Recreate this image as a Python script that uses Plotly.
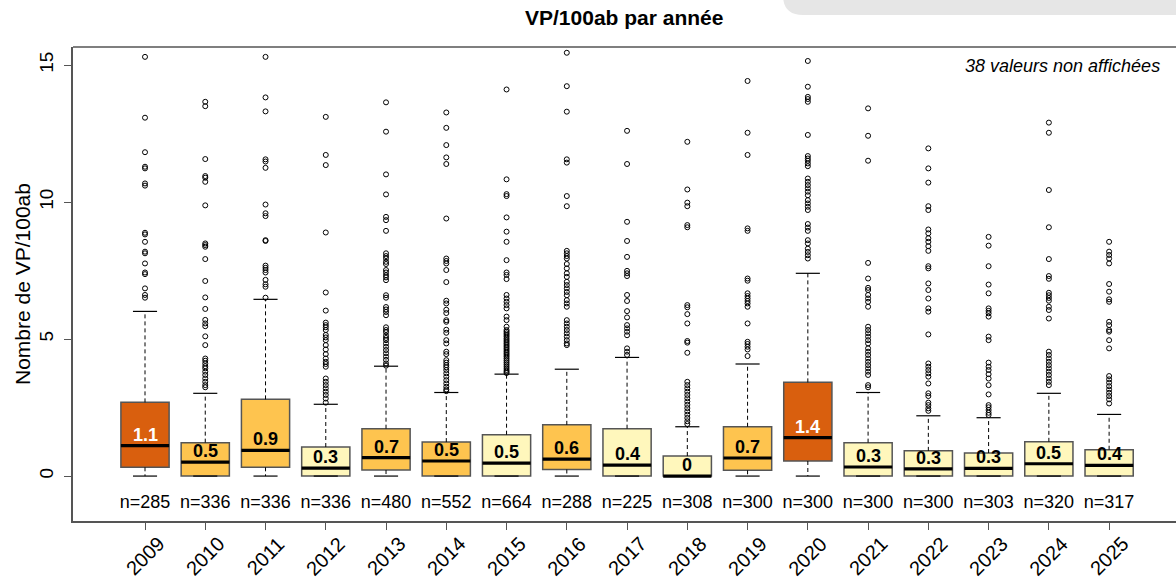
import plotly.graph_objects as go

# --- data --------------------------------------------------------------
years = [2009, 2010, 2011, 2012, 2013, 2014, 2015, 2016, 2017,
         2018, 2019, 2020, 2021, 2022, 2023, 2024, 2025]
n_obs = [285, 336, 336, 336, 480, 552, 664, 288, 225,
         308, 300, 300, 300, 300, 303, 320, 317]

q1 = [0.32, 0.0, 0.32, 0.0, 0.22, 0.0, 0.0, 0.24, 0.0,
      0.0, 0.21, 0.55, 0.0, 0.0, 0.0, 0.0, 0.0]
median = [1.11, 0.51, 0.94, 0.29, 0.67, 0.55, 0.47, 0.62, 0.40,
          0.0, 0.66, 1.40, 0.33, 0.26, 0.28, 0.45, 0.39]
q3 = [2.69, 1.22, 2.80, 1.06, 1.73, 1.24, 1.51, 1.87, 1.73,
      0.73, 1.80, 3.42, 1.22, 0.92, 0.84, 1.25, 0.96]
whisker_lo = [0.0] * 17
whisker_hi = [6.01, 3.02, 6.45, 2.62, 4.01, 3.05, 3.72, 3.90, 4.33,
              1.80, 4.09, 7.40, 3.05, 2.20, 2.13, 3.02, 2.25]
median_labels = ["1.1", "0.5", "0.9", "0.3", "0.7", "0.5", "0.5", "0.6", "0.4",
                 "0", "0.7", "1.4", "0.3", "0.3", "0.3", "0.5", "0.4"]

DARK, MID, PALE = "#D95F0E", "#FEC44F", "#FFF7BC"
box_colors = [DARK, MID, MID, PALE, MID, MID, PALE, MID, PALE,
              PALE, MID, DARK, PALE, PALE, PALE, PALE, PALE]

out_2009 = [15.30, 13.08, 11.82, 11.29, 11.23, 10.68, 10.60, 8.88, 8.82, 8.55,
            8.19, 8.13, 7.76, 7.43, 7.37, 6.85, 6.61, 6.51]
out_2010 = [13.66, 13.50, 11.57, 10.95, 10.89, 10.74, 9.88, 8.49, 8.43, 8.37,
            7.92, 7.12, 6.52, 6.10, 5.70, 5.57, 5.47, 5.10, 4.78, 4.29, 4.21,
            4.11, 4.01, 3.93, 3.81, 3.69, 3.56, 3.44, 3.32, 3.24]
out_2011 = [15.30, 13.82, 13.31, 11.56, 11.48, 11.25, 9.91, 9.59, 9.49, 8.61,
            8.58, 7.68, 7.60, 7.52, 7.43, 7.16, 7.00, 6.91, 6.51]
out_2012 = [13.11, 11.72, 11.35, 8.89, 6.70, 6.04, 5.60, 5.51, 5.43, 5.33,
            5.15, 5.06, 4.96, 4.78, 4.62, 4.45, 4.29, 4.17, 4.09, 3.99, 3.56,
            3.44, 3.32, 3.20, 3.08, 2.96, 2.83, 2.68]
out_2013 = [13.64, 12.57, 11.01, 10.28, 9.46, 9.34, 8.95, 8.13, 8.03, 7.94,
            7.82, 7.74, 7.52, 7.43, 7.33, 7.25, 7.15, 6.60, 6.51, 6.17, 6.08,
            5.99, 5.87, 5.43, 5.33, 5.25, 5.13, 5.04, 4.96, 4.84, 4.72, 4.60,
            4.48, 4.36, 4.24, 4.11, 4.03]
out_2014 = [13.27, 12.71, 12.08, 11.63, 11.39, 9.40, 7.94, 7.85, 7.76, 7.52,
            7.08, 6.40, 6.30, 6.07, 5.95, 5.69, 5.63, 5.34, 5.23, 4.96, 4.84,
            4.54, 4.45, 4.23, 4.14, 4.05, 3.97, 3.87, 3.75, 3.63, 3.50, 3.38,
            3.26, 3.16, 3.10]
out_2015 = [14.11, 10.83, 10.29, 10.22, 9.44, 8.92, 8.55, 7.88, 7.43, 7.34,
            7.19, 6.61, 6.48, 6.36, 6.24, 6.12, 5.82, 5.69, 5.45, 5.33, 5.27,
            5.21, 5.15, 5.09, 5.02, 4.96, 4.90, 4.84, 4.78, 4.72, 4.66, 4.60,
            4.54, 4.48, 4.42, 4.36, 4.29, 4.22, 4.15, 4.08, 4.01, 3.94, 3.87,
            3.81, 3.76]
out_2016 = [15.45, 14.23, 13.30, 11.56, 11.44, 10.22, 9.85, 8.22, 8.13, 8.03,
            7.94, 7.74, 7.58, 7.40, 7.27, 7.09, 6.97, 6.85, 6.72, 6.60, 6.42,
            6.30, 6.18, 5.69, 5.57, 5.45, 5.33, 5.21, 5.09, 4.96, 4.84, 4.78]
out_2017 = [12.60, 11.39, 9.28, 8.58, 8.00, 7.49, 7.40, 7.30, 6.61, 6.39,
            6.02, 5.79, 5.51, 5.39, 5.27, 5.14, 4.66, 4.54, 4.42]
out_2018 = [12.20, 10.46, 9.98, 9.85, 9.16, 9.08, 6.24, 6.16, 5.91, 5.57,
            4.93, 4.87, 4.50, 3.44, 3.32, 3.20, 3.08, 2.96, 2.84, 2.72, 2.60,
            2.48, 2.36, 2.24, 2.12, 2.00, 1.90]
out_2019 = [14.42, 12.53, 11.72, 9.04, 8.95, 7.21, 7.13, 6.67, 6.57, 6.48,
            6.39, 6.30, 6.18, 5.57, 4.90, 4.82, 4.72, 4.62, 4.38]
out_2020 = [15.15, 14.21, 13.84, 13.76, 13.66, 12.45, 11.68, 11.59, 11.51, 11.41,
            11.31, 10.86, 10.74, 10.62, 10.50, 10.38, 10.25, 10.07, 9.95, 9.83,
            9.71, 9.20, 9.07, 8.95, 8.61, 8.49, 8.30, 8.18, 8.06, 7.94]
out_2021 = [13.42, 12.42, 11.51, 7.78, 7.21, 6.87, 6.79, 6.61, 6.48, 6.36,
            6.18, 5.45, 5.33, 5.21, 5.09, 4.96, 4.84, 4.66, 4.54, 4.42, 4.29,
            4.17, 4.05, 3.93, 3.81, 3.69, 3.32, 3.24]
out_2022 = [11.96, 11.23, 10.71, 9.85, 9.71, 9.00, 8.86, 8.68, 8.55, 8.39,
            8.22, 7.66, 7.58, 7.03, 6.79, 6.48, 6.12, 6.00, 5.17, 4.11, 3.99,
            3.87, 3.75, 3.63, 3.38, 3.02, 2.92, 2.68, 2.59, 2.47, 2.38]
out_2023 = [8.73, 8.41, 7.66, 6.99, 6.67, 6.12, 6.03, 5.94, 5.82, 5.09,
            4.96, 4.14, 3.99, 3.87, 3.72, 3.56, 3.32, 2.98, 2.59, 2.51, 2.41,
            2.31, 2.23]
out_2024 = [12.90, 12.53, 10.44, 9.08, 7.92, 7.30, 7.20, 6.69, 6.60, 6.50,
            6.40, 6.18, 6.06, 5.75, 4.54, 4.42, 4.29, 4.17, 4.05, 3.93, 3.81,
            3.69, 3.56, 3.44, 3.32]
out_2025 = [8.55, 8.19, 8.07, 7.94, 7.76, 7.01, 6.73, 6.45, 6.36, 5.63,
            5.51, 5.33, 5.27, 4.96, 4.66, 3.65, 3.53, 3.41, 3.28, 3.16, 3.04,
            2.92, 2.80, 2.65]
outliers = [out_2009, out_2010, out_2011, out_2012, out_2013, out_2014,
            out_2015, out_2016, out_2017, out_2018, out_2019, out_2020,
            out_2021, out_2022, out_2023, out_2024, out_2025]

FONT = "Liberation Sans, Arial, sans-serif"
FRAME = "#555555"
pos = list(range(len(years)))

# plot area in pixels (R plot region is cut at the right edge)
W, H = 1176, 577
L, T, B = 73, 47, 56
X_RANGE = [-1.195, 17.11]
Y_RANGE = [-1.64, 15.66]


def paper_x(px):
    return (px - L) / (W - L)


def paper_y(py):
    return (H - B - py) / (H - B - T)


fig = go.Figure()

# boxes
fig.add_trace(go.Bar(
    x=pos, y=[b - a for a, b in zip(q1, q3)], base=q1, width=0.8,
    marker=dict(color=box_colors, line=dict(color=FRAME, width=1.5)),
    hoverinfo="skip"))

# whiskers (dashed), staples, medians
wx, wy, sx, sy, mx, my = [], [], [], [], [], []
for p, a, b, lo, hi, m in zip(pos, q1, q3, whisker_lo, whisker_hi, median):
    wx += [p, p, None, p, p, None]
    wy += [b, hi, None, a, lo, None]
    sx += [p - 0.2, p + 0.2, None, p - 0.2, p + 0.2, None]
    sy += [hi, hi, None, lo, lo, None]
    mx += [p - 0.4, p + 0.4, None]
    my += [m, m, None]

fig.add_trace(go.Scatter(x=wx, y=wy, mode="lines", hoverinfo="skip",
                         line=dict(color="black", width=1, dash="4px,3px")))
fig.add_trace(go.Scatter(x=sx, y=sy, mode="lines", hoverinfo="skip",
                         line=dict(color="black", width=1.2)))
fig.add_trace(go.Scatter(x=mx, y=my, mode="lines", hoverinfo="skip",
                         line=dict(color="black", width=3.2)))

# outliers
ox, oy = [], []
for p, vals in zip(pos, outliers):
    ox += [p] * len(vals)
    oy += vals
fig.add_trace(go.Scatter(x=ox, y=oy, mode="markers", hoverinfo="skip",
                         marker=dict(symbol="circle-open", size=5,
                                     color="black", line=dict(width=1))))

# n= labels under the boxes
fig.add_trace(go.Scatter(x=pos, y=[-0.99] * len(pos), mode="text",
                         text=[f"n={n}" for n in n_obs], hoverinfo="skip",
                         textfont=dict(family=FONT, size=18, color="black")))

# median value labels
for p, m, lab, c in zip(pos, median, median_labels, box_colors):
    fig.add_annotation(x=p, y=m, text=f"<b>{lab}</b>", showarrow=False,
                       yanchor="middle", yshift=11,
                       font=dict(family=FONT, size=18,
                                 color="white" if c == DARK else "black"))

# year labels, rotated and centred under each tick (R style)
for p, yr in zip(pos, years):
    fig.add_annotation(x=p, xref="x", yref="paper", y=paper_y(556),
                       xanchor="center", yanchor="middle",
                       text=str(yr), textangle=-45, showarrow=False,
                       font=dict(family=FONT, size=20, color="black"))

fig.add_annotation(xref="paper", yref="paper", x=paper_x(624), y=paper_y(18),
                   xanchor="center", yanchor="middle",
                   text="<b>VP/100ab par année</b>", showarrow=False,
                   font=dict(family=FONT, size=21, color="black"))
fig.add_annotation(xref="paper", yref="paper", x=paper_x(22), y=0.5,
                   xanchor="center", yanchor="middle",
                   text="Nombre de VP/100ab", textangle=-90, showarrow=False,
                   font=dict(family=FONT, size=21, color="black"))
fig.add_annotation(xref="paper", yref="paper", x=paper_x(1162), y=paper_y(66),
                   xanchor="right", yanchor="middle",
                   text="<i>38 valeurs non affichées</i>",
                   showarrow=False, font=dict(family=FONT, size=18, color="black"))

# top frame line and grey tab in the corner
fig.add_shape(type="line", xref="paper", yref="paper", x0=0, x1=1.01, y0=1, y1=1,
              line=dict(color=FRAME, width=1.5))
r = 20
tab = (f"M {paper_x(783)},{paper_y(-5)} L {paper_x(783)},{paper_y(15 - r)} "
       f"Q {paper_x(783)},{paper_y(15)} {paper_x(783 + r)},{paper_y(15)} "
       f"L {paper_x(1185)},{paper_y(15)} L {paper_x(1185)},{paper_y(-5)} Z")
fig.add_shape(type="path", xref="paper", yref="paper", path=tab,
              fillcolor="#e6e6e6", line=dict(width=0), layer="above")

fig.update_layout(
    width=W, height=H,
    margin=dict(l=L, r=0, t=T, b=B),
    plot_bgcolor="white", paper_bgcolor="white",
    showlegend=False, barmode="overlay",
    font=dict(family=FONT, size=19, color="black"),
)
fig.update_xaxes(range=X_RANGE, tickvals=pos, showticklabels=False,
                 ticks="outside", ticklen=7, tickcolor=FRAME,
                 showline=True, linecolor=FRAME, linewidth=1.5, automargin=False,
                 showgrid=False, zeroline=False)
fig.update_yaxes(range=Y_RANGE, tickvals=[0, 5, 10, 15], tickangle=-90,
                 ticks="outside", ticklen=7, tickcolor=FRAME, automargin=False,
                 showline=True, linecolor=FRAME, linewidth=1.5,
                 showgrid=False, zeroline=False, tickfont=dict(size=19),
                 ticklabelstandoff=4)

# drop the default body margin so the figure sits at the window's corner
fig.write_html("out.html", config={"displayModeBar": False},
               post_script="document.body.style.margin='0';")
